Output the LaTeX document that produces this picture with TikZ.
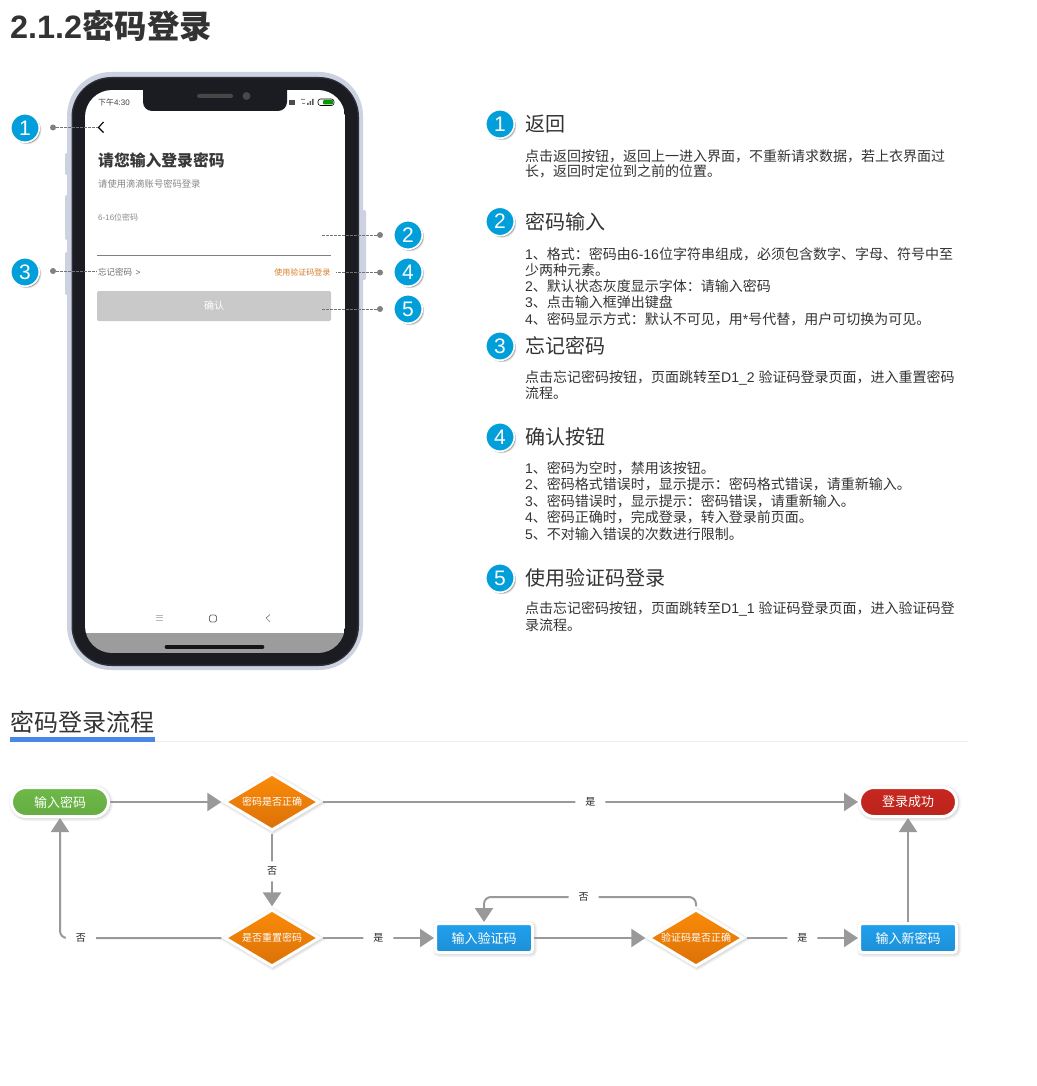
\documentclass[tikz,border=0pt]{standalone}
\usepackage{fontspec}
\setmainfont{Noto Sans CJK SC}
\newfontfamily\latf{Liberation Sans}
\usetikzlibrary{arrows.meta,shapes.geometric,shadows}
\newcommand\pxf[1]{\fontsize{#1}{#1}\selectfont}
\newcommand\la[1]{{\latf #1}}
\definecolor{txt}{HTML}{333333}
\definecolor{edgegray}{HTML}{999999}
\definecolor{badgeblue}{HTML}{009FD9}
\definecolor{phoneedge}{HTML}{CCD2E0}
\definecolor{phonedark}{HTML}{1B1C21}
\definecolor{phonerim}{HTML}{2E3039}
\definecolor{orange1}{HTML}{FB8B08}
\definecolor{orange2}{HTML}{DB7108}
\definecolor{flowgreen}{HTML}{6DB948}
\definecolor{flowred}{HTML}{C8271F}
\definecolor{flowblue}{HTML}{20A0EE}
\definecolor{flowbar}{HTML}{4A86E8}
\tikzset{
  softshadow/.style={
    general shadow={draw=black,fill=black,line width=3.5pt,opacity=.06,shadow xshift=1pt,shadow yshift=-1pt},
    general shadow={draw=black,fill=black,line width=5.5pt,opacity=.04,shadow xshift=1pt,shadow yshift=-1pt},
    general shadow={draw=black,fill=black,line width=7.5pt,opacity=.03,shadow xshift=1pt,shadow yshift=-1pt}},
  badgeshadow/.style={
    general shadow={fill=black,opacity=.28,shadow xshift=1.2pt,shadow yshift=-1.2pt},
    general shadow={fill=black,opacity=.12,shadow xshift=2pt,shadow yshift=-2pt}},
  badge/.style={circle,fill=badgeblue,draw=white,line width=1.6pt,minimum size=28.5pt,inner sep=0pt,text=white,badgeshadow,font=\latf\pxf{21}},
  pin/.style={circle,fill=black!50,minimum size=6pt,inner sep=0pt},
  leader/.style={draw=black!55,line width=.8pt,dash pattern=on 2.5pt off 1.5pt},
  head/.style={anchor=west,inner sep=0pt,text=txt,font=\pxf{20}},
  body/.style={anchor=west,inner sep=0pt,text=txt,font=\pxf{14}},
  screentxt/.style={anchor=west,inner sep=0pt},
  flowbase/.style={draw=white,line width=3pt,text=white,font=\pxf{13},softshadow,inner sep=0pt,minimum height=29pt,minimum width=97pt},
  terminal/.style={flowbase,rounded corners=14.4pt,top color=#1,bottom color=#1!93!black},
  procbox/.style={flowbase,rounded corners=3pt,top color=#1,bottom color=#1!90!black},
  decide/.style={diamond,aspect=1.63,draw=white,line width=3pt,text=white,font=\pxf{10},softshadow,inner sep=0pt,outer sep=2.6pt,minimum width=96pt,minimum height=58pt,top color=orange1,bottom color=orange2},
  flowedge/.style={draw=edgegray,line width=2pt,-{Triangle[length=14pt,width=18pt]},rounded corners=7pt},
  edgelabel/.style={fill=white,text=black!85,font=\pxf{10},inner sep=0pt,minimum width=30pt,minimum height=20pt},
}
\begin{document}
\begin{tikzpicture}[x=1pt,y=-1pt]
\useasboundingbox (0,0) rectangle (1036,1086);
\fill[white] (0,0) rectangle (1036,1086);
% title
\node[anchor=west,inner sep=0pt,text=txt,font=\bfseries\pxf{32.4}] (title) at (10,26.5) {{\latf\bfseries 2.1.2}密码登录};

% phone body
\fill[phoneedge,rounded corners=2pt] (65,153) rectangle (70,175);
\fill[phoneedge,rounded corners=2pt] (65,195) rectangle (70,240);
\fill[phoneedge,rounded corners=2pt] (65,252) rectangle (70,295);
\fill[phoneedge,rounded corners=2pt] (360,210) rectangle (366,280);
\fill[phoneedge,rounded corners=44pt] (67,72) rectangle (363,670);
\fill[phonerim,rounded corners=40pt] (71.5,77) rectangle (359,666);
\fill[phonedark,rounded corners=38pt] (73,78.5) rectangle (357.5,664.5);
\begin{scope}
  \clip[rounded corners=27pt] (85,90) rectangle (345,653);
  \fill[white] (85,90) rectangle (345,633);
  \fill[black!39!white] (85,633) rectangle (345,653);
\end{scope}
% notch
\fill[phonedark,rounded corners=9pt] (143,80) -- (143,111) -- (287,111) -- (287,80) -- cycle;
\fill[phonedark] (143,80) rectangle (287,92);
\fill[black!72!white,rounded corners=1.5pt] (197,94) rectangle (233,98);
\fill[black!72!white] (246.5,96) circle (4);
% status bar
\node[screentxt,font=\pxf{8},text=black!75] (clock) at (98,102) {下午\la{4:30}};
\fill[black!70] (289,100) rectangle (295,105);
\fill[black!65] (307,105) rectangle (308.5,103) (309.5,105) rectangle (311,101) (312,105) rectangle (313.5,99);
\fill[black!45] (301,99) rectangle (305,100) (302,103) rectangle (305,104);
\draw[black,line width=.6pt,rounded corners=2.5pt] (318,99) rectangle (334,105.5);
\fill[green!60!black,rounded corners=1pt] (323,100) rectangle (333,104.5);
% screen content
\draw[black,line width=1.1pt] (103.5,122) -- (98.5,127.5) -- (103.5,132.5);
\node[screentxt,font=\bfseries\pxf{15.8},text=black!78] (ptitle) at (98,160) {请您输入登录密码};
\node[screentxt,font=\pxf{9.3},text=black!48] (psub) at (98,184) {请使用滴滴账号密码登录};
\node[screentxt,font=\pxf{8},text=black!45] (phint) at (98,217) {\la{6-16}位密码};
\draw[black!50,line width=.7pt] (97,255.5) -- (331,255.5);
\node[screentxt,font=\pxf{8.5},text=black!58] (pforgot) at (98,272) {忘记密码 \,\la{>}};
\node[anchor=east,inner sep=0pt,font=\pxf{8},text=orange!80!black!85!white] (pcode) at (330.5,272.5) {使用验证码登录};
\fill[black!21,rounded corners=1.5pt] (97,291) rectangle (331,321);
\node[font=\pxf{10},text=white,inner sep=0pt] (pconfirm) at (214,306) {确认};
% nav bar
\draw[black!28,line width=.6pt] (156,615) -- (163,615) (156,617.5) -- (163,617.5) (156,620) -- (163,620);
\draw[black!55,line width=.8pt,rounded corners=1.5pt] (209.5,615) rectangle (216.5,622);
\draw[black!50,line width=.7pt] (270,614.5) -- (266,618) -- (270,622);
\draw[black!92,line width=3.6pt,line cap=round] (166.5,647) -- (262.5,647);

% callouts on the phone
\node[badge] (c1) at (25,128) {1};
\node[badge] (c3) at (25,272) {3};
\node[badge] (c2) at (408,235) {2};
\node[badge] (c4) at (408,272) {4};
\node[badge] (c5) at (408,309) {5};
\node[pin] (p1) at (53,127.5) {};
\node[pin] (p3) at (53,271) {};
\node[pin] (p2) at (380,235) {};
\node[pin] (p4) at (380,272.5) {};
\node[pin] (p5) at (380,309) {};
\coordinate (t1) at (98,127.5);
\coordinate (t3) at (97,271);
\coordinate (t2) at (321,235);
\coordinate (t4) at (336,272.5);
\coordinate (t5) at (321,309);
\draw[leader] (p1) -- (t1);
\draw[leader] (p3) -- (t3);
\draw[leader] (p2) -- (t2);
\draw[leader] (p4) -- (t4);
\draw[leader] (p5) -- (t5);

% right column
\node[badge] (r1) at (500,124) {1};
\node[head] (h1) at (525,124) {返回};
\node[body] at (525,156) {点击返回按钮，返回上一进入界面，不重新请求数据，若上衣界面过};
\node[body] at (525,171) {长，返回时定位到之前的位置。};

\node[badge] (r2) at (500,221.5) {2};
\node[head] (h2) at (525,221.5) {密码输入};
\node[body] at (525,254) {\la{1}、格式：密码由\la{6-16}位字符串组成，必须包含数字、字母、符号中至};
\node[body] at (525,270) {少两种元素。};
\node[body] at (525,286) {\la{2}、默认状态灰度显示字体：请输入密码};
\node[body] at (525,302) {\la{3}、点击输入框弹出键盘};
\node[body] at (525,319) {\la{4}、密码显示方式：默认不可见，用\la{*}号代替，用户可切换为可见。};

\node[badge] (r3) at (500,346) {3};
\node[head] (h3) at (525,346) {忘记密码};
\node[body] at (525,378) {点击忘记密码按钮，页面跳转至\la{D1\_2 }验证码登录页面，进入重置密码};
\node[body] at (525,393) {流程。};

\node[badge] (r4) at (500,437) {4};
\node[head] (h4) at (525,437) {确认按钮};
\node[body] at (525,468) {\la{1}、密码为空时，禁用该按钮。};
\node[body] at (525,484) {\la{2}、密码格式错误时，显示提示：密码格式错误，请重新输入。};
\node[body] at (525,501) {\la{3}、密码错误时，显示提示：密码错误，请重新输入。};
\node[body] at (525,517) {\la{4}、密码正确时，完成登录，转入登录前页面。};
\node[body] at (525,534) {\la{5}、不对输入错误的次数进行限制。};

\node[badge] (r5) at (500,578) {5};
\node[head] (h5) at (525,578) {使用验证码登录};
\node[body] at (525,609) {点击忘记密码按钮，页面跳转至\la{D1\_1 }验证码登录页面，进入验证码登};
\node[body] at (525,625) {录流程。};

% section heading
\node[anchor=west,inner sep=0pt,text=txt,font=\pxf{24}] (sec) at (10,722.5) {密码登录流程};
\fill[black!7] (10,741) rectangle (968,742);
\fill[flowbar] (10,737) rectangle (155,742);

% flowchart
\node[terminal=flowgreen] (start) at (60,802) {输入密码};
\node[decide] (d1) at (272,802) {密码是否正确};
\node[terminal=flowred] (ok) at (908,802) {登录成功};
\node[decide] (d2) at (272,938) {是否重置密码};
\node[procbox=flowblue] (vc) at (484,938) {输入验证码};
\node[decide] (d3) at (696,938) {验证码是否正确};
\node[procbox=flowblue] (npw) at (908,938) {输入新密码};

\draw[flowedge] (start) -- (d1);
\draw[flowedge] (d1) -- node[edgelabel,pos=.5] (l1) {是} (ok);
\draw[flowedge] (d1) -- node[edgelabel,pos=.52] (l2) {否} (d2);
\draw[flowedge] (d2.west) -- node[edgelabel,pos=.87] (l3) {否} (60,938) -- (start.south);
\draw[flowedge] (d2) -- node[edgelabel,pos=.5] (l4) {是} (vc);
\draw[flowedge] (vc) -- (d3);
\draw[flowedge] (d3.north) -- (696,897) -- node[edgelabel,pos=.53] (l5) {否} (484,897) -- (vc.north);
\draw[flowedge] (d3) -- node[edgelabel,pos=.5] (l6) {是} (npw);
\draw[flowedge] (npw) -- (ok);
\end{tikzpicture}
\end{document}
